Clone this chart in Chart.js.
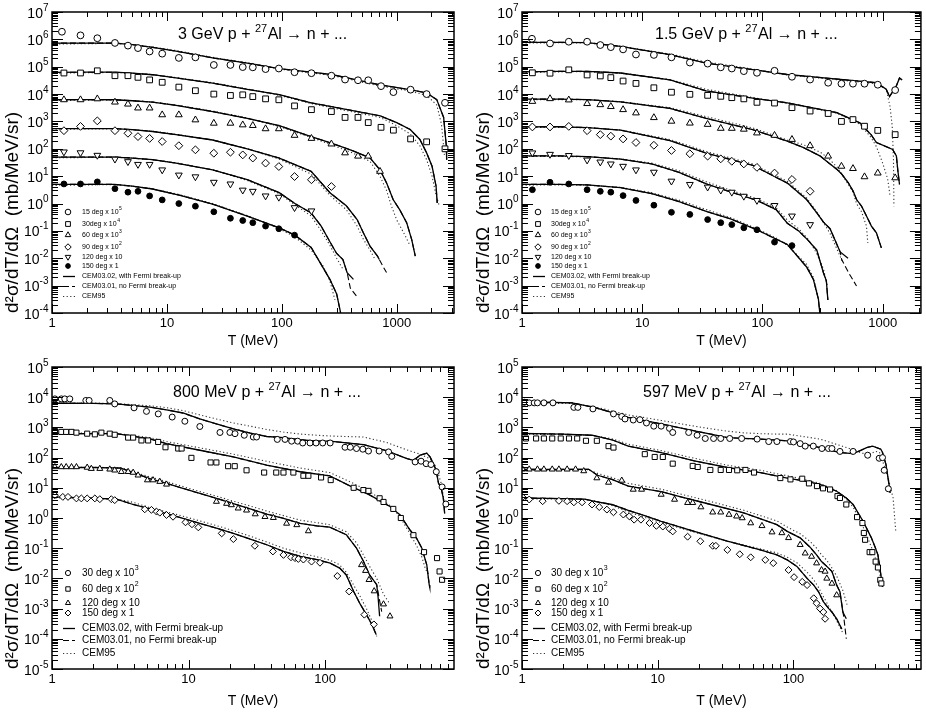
<!DOCTYPE html>
<html>
<head>
<meta charset="utf-8">
<script src="https://cdn.jsdelivr.net/npm/chart.js@4.4.1/dist/chart.umd.min.js"></script>
<style>
  html, body { margin: 0; padding: 0; background: #fff; }
  .panel { position: absolute; }
</style>
</head>
<body>
<div class="panel" style="left:0;top:0"><canvas id="p1" width="463" height="357"></canvas></div>
<div class="panel" style="left:463px;top:0"><canvas id="p2" width="463" height="357"></canvas></div>
<div class="panel" style="left:0;top:357px"><canvas id="p3" width="463" height="356"></canvas></div>
<div class="panel" style="left:463px;top:357px"><canvas id="p4" width="463" height="356"></canvas></div>
<script>
// tick labels / legend texts
const xTickValues = [1, 10, 100, 1000];
const modelLabels = ['CEM03.02, with Fermi break-up', 'CEM03.01, no Fermi break-up', 'CEM95'];
const legendHigh = [['15 deg x 10', '5'], ['30deg x 10', '4'], ['60 deg x 10', '3'], ['90 deg x 10', '2'], ['120 deg x 10', ''], ['150 deg x 1', '']];
const legendLow = [['30 deg x 10', '3'], ['60 deg x 10', '2'], ['120 deg x 10', ''], ['150 deg x 1', '']];

// ---------- 3 GeV p + 27Al (T in MeV, d2s/dTdO scaled) ----------
const gev3_15deg = [[1.22,1.9e6],[1.77,1.4e6],[2.48,1.1e6],[3.53,7.4e5],[4.58,5.9e5],[5.6,4.8e5],[7.07,3.6e5],[9.1,3.0e5],[12.7,2.1e5],[17.7,2.2e5],[25.6,1.16e5],[35.7,1.16e5],[45.7,9.7e4],[55.9,9.5e4],[72.2,8.2e4],[94.2,8.6e4],[129,6.3e4],[181,5.8e4],[270,4.7e4],[355,3.4e4],[460,3.2e4],[565,3.2e4],[730,1.95e4],[935,1.18e4],[1320,1.45e4],[1820,1.0e4],[2630,4.8e3]];
const gev3_30deg = [[1.27,5.9e4],[1.77,5.9e4],[2.48,7.1e4],[3.53,4.7e4],[4.58,4.7e4],[5.6,4.1e4],[7.07,3.3e4],[9.1,2.7e4],[12.7,1.8e4],[17.7,1.33e4],[25.6,1.0e4],[35.7,8.9e3],[45.7,9.4e3],[55.9,8.1e3],[72.2,6.7e3],[94.2,6.2e3],[129,3.7e3],[181,2.7e3],[270,2.3e3],[355,1.4e3],[460,1.4e3],[565,9.1e2],[730,6.1e2],[935,4.8e2],[1320,2.3e2],[1820,1.8e2],[2630,1.0e2]];
const gev3_60deg = [[1.27,6.2e3],[1.77,6.2e3],[2.48,6.7e3],[3.53,5.1e3],[4.58,4.3e3],[5.6,3.1e3],[7.07,3.1e3],[9.1,1.75e3],[12.7,1.75e3],[17.7,1.14e3],[25.6,8.6e2],[35.7,8.6e2],[45.7,7.5e2],[55.9,7.1e2],[72.2,5.4e2],[94.2,5.4e2],[129,3.1e2],[181,2.4e2],[270,1.5e2],[355,71],[460,54],[565,54],[715,15]];
const gev3_90deg = [[1.27,4.6e2],[1.77,6.6e2],[2.48,1.05e3],[3.53,4.6e2],[4.58,3.7e2],[5.6,2.8e2],[7.07,2.4e2],[9.1,1.85e2],[12.7,1.3e2],[17.7,92],[25.6,69],[35.7,75],[45.7,60],[55.9,46],[72.2,30],[94.2,22.5],[129,9.7],[181,7.4],[270,4.2]];
const gev3_120deg = [[1.27,77],[1.77,72],[2.48,58],[3.53,42],[4.58,34],[5.6,27],[7.07,27],[9.1,17],[12.7,11],[17.7,9.5],[25.6,6.0],[35.7,5.2],[45.7,3.1],[55.9,2.8],[72.2,1.9],[94.2,1.7],[129,0.71],[181,0.54]];
const gev3_150deg = [[1.27,5.2],[1.77,5.2],[2.48,6.2],[3.53,3.5],[4.58,2.6],[5.6,2.8],[7.07,1.9],[9.1,1.36],[12.7,1.0],[17.7,0.8],[25.6,0.5],[35.7,0.29],[45.7,0.24],[55.9,0.2],[72.2,0.15],[94.2,0.12],[129,0.07]];

const gev3_cem0302_15 = [[1,7.3e5],[2,7.3e5],[3.5,7.3e5],[5,6.4e5],[7.5,5.1e5],[12,3.7e5],[25,2.1e5],[50,1.35e5],[95,8.5e4],[180,6.3e4],[270,5.2e4],[700,2.2e4],[1300,1.45e4],[1820,1.1e4],[2230,6.3e3],[2560,1.4e3],[2700,1.3e2],[2720,40]];
const gev3_cem0302_30 = [[1,6.2e4],[2,6.3e4],[3.5,6.3e4],[5,5.8e4],[7.5,5.1e4],[12,3.9e4],[25,2.5e4],[50,1.5e4],[95,9.5e3],[180,4.8e3],[270,3.5e3],[720,1.6e3],[1000,9.0e2],[1310,5.1e2],[1590,2.2e2],[1820,71],[2030,23],[2200,4.3],[2250,1.05]];
const gev3_cem0302_60 = [[1,6.2e3],[2,6.3e3],[3.5,6.2e3],[5,5.7e3],[7.5,5.1e3],[12,3.9e3],[25,2.3e3],[50,1.3e3],[95,7.0e2],[180,2.8e2],[270,1.6e2],[400,90],[585,47],[715,17],[815,5.7],[930,1.4],[1060,0.6],[1220,0.2],[1350,0.048],[1450,0.012]];
const gev3_cem0302_90 = [[1,5.5e2],[2,5.5e2],[3.5,5.5e2],[5,5.0e2],[7.5,4.3e2],[12,3.3e2],[25,2.1e2],[50,1.0e2],[95,46],[180,15],[262,2.5],[364,0.83],[452,0.26],[512,0.085],[585,0.028],[680,0.012],[705,0.009]];
const gev3_cem0302_120 = [[1,50],[2,50],[3.5,50],[5,46],[7.5,40],[12,30],[25,17],[50,7.5],[95,2.5],[130,1.0],[180,0.45],[220,0.15],[262,0.04],[300,0.015],[340,0.009],[370,0.003],[420,0.0017]];
const gev3_cem0302_150 = [[1,5],[2,5],[3.5,5],[5,4.3],[7.5,3.4],[13,2.0],[25,0.95],[50,0.35],[95,0.13],[130,0.07],[180,0.025],[262,0.0017],[300,0.0005],[325,0.0001]];

const gev3_cem0301_15 = [[1,7.3e5],[2,7.3e5],[3.5,7.3e5],[5,6.4e5],[7.5,5.1e5],[12,3.7e5],[25,2.1e5],[50,1.35e5],[95,8.5e4],[180,6.3e4],[270,5.2e4],[700,2.2e4],[1300,1.45e4],[1820,1.1e4],[2230,6.3e3],[2560,1.4e3],[2700,1.3e2],[2720,40]];
const gev3_cem0301_30 = [[1,6.2e4],[2,6.3e4],[3.5,6.3e4],[5,5.8e4],[7.5,5.1e4],[12,3.9e4],[25,2.5e4],[50,1.5e4],[95,9.5e3],[180,4.8e3],[270,3.5e3],[720,1.6e3],[1000,9.0e2],[1310,5.1e2],[1590,2.2e2],[1820,71],[2030,23],[2200,4.3],[2250,1.05]];
const gev3_cem0301_60 = [[1,6.2e3],[2,6.3e3],[3.5,6.2e3],[5,5.7e3],[7.5,5.1e3],[12,3.9e3],[25,2.3e3],[50,1.3e3],[95,7.0e2],[180,2.8e2],[270,1.6e2],[400,90],[585,47],[715,17],[815,5.7],[930,1.4],[1060,0.6],[1220,0.2],[1350,0.048],[1450,0.012]];
const gev3_cem0301_90 = [[1,5.5e2],[2,5.5e2],[3.5,5.5e2],[5,5.0e2],[7.5,4.3e2],[12,3.3e2],[25,2.1e2],[50,1.0e2],[95,46],[180,15],[262,2.5],[364,0.83],[452,0.26],[512,0.085],[585,0.028],[680,0.012],[705,0.009],[760,0.005],[815,0.003]];
const gev3_cem0301_120 = [[1,50],[2,50],[3.5,50],[5,46],[7.5,40],[12,30],[25,17],[50,7.5],[95,2.5],[130,1.0],[180,0.45],[220,0.15],[262,0.04],[300,0.015],[340,0.009],[370,0.003],[395,0.0008],[450,0.0004]];
const gev3_cem0301_150 = [[1,5],[2,5],[3.5,5],[5,4.3],[7.5,3.4],[13,2.0],[25,0.95],[50,0.35],[95,0.13],[130,0.07],[180,0.025],[262,0.0017],[300,0.0005],[325,0.0001]];

const gev3_cem95_15 = [[1,6.8e5],[2,6.9e5],[3.5,7.2e5],[5,6.5e5],[7.5,5.3e5],[12,3.9e5],[25,2.2e5],[50,1.4e5],[95,8.2e4],[180,6.0e4],[270,4.8e4],[700,2.0e4],[1300,1.3e4],[1820,9.0e3],[2230,4.0e3],[2450,8.0e2],[2600,60]];
const gev3_cem95_30 = [[1,5.8e4],[2,6.0e4],[3.5,6.2e4],[5,5.8e4],[7.5,5.2e4],[12,4.0e4],[25,2.6e4],[50,1.55e4],[95,9.0e3],[180,4.5e3],[270,3.2e3],[720,1.4e3],[1000,7.0e2],[1310,3.5e2],[1590,1.3e2],[1820,40],[2030,10],[2200,2],[2350,0.8]];
const gev3_cem95_60 = [[1,5.8e3],[2,6.0e3],[3.5,6.1e3],[5,5.8e3],[7.5,5.1e3],[12,4.0e3],[25,2.4e3],[50,1.35e3],[95,6.5e2],[180,2.6e2],[270,1.4e2],[400,75],[585,35],[715,10],[815,3],[900,0.8],[1000,0.25],[1100,0.12],[1200,0.06],[1300,0.03]];
const gev3_cem95_90 = [[1,5.2e2],[2,5.3e2],[3.5,5.4e2],[5,5.0e2],[7.5,4.4e2],[12,3.4e2],[25,2.1e2],[50,1.0e2],[95,42],[180,12],[262,2],[364,0.6],[452,0.15],[512,0.05],[585,0.02],[640,0.01]];
const gev3_cem95_120 = [[1,47],[2,48],[3.5,49],[5,46],[7.5,40],[12,31],[25,17],[50,7],[95,2.3],[130,0.9],[180,0.35],[220,0.1],[262,0.03],[300,0.01],[340,0.004]];
const gev3_cem95_150 = [[1,4.6],[2,4.8],[3.5,4.9],[5,4.3],[7.5,3.5],[13,2.1],[25,1.0],[50,0.36],[95,0.12],[130,0.06],[180,0.02],[230,0.005],[262,0.0015],[290,0.0003]];

// ---------- 1.5 GeV p + 27Al ----------
const gev15_15deg = [[1.21,1.05e6],[1.71,7.1e5],[2.45,8.2e5],[3.48,8.2e5],[4.48,6.2e5],[5.48,5.2e5],[6.93,4.3e5],[8.87,2.8e5],[12.5,2.7e5],[17.5,2.2e5],[24.9,1.42e5],[35,1.3e5],[45,9.5e4],[55.6,8.6e4],[70,6.9e4],[90,6.0e4],[126,7.1e4],[176,4.3e4],[249,3.4e4],[352,2.6e4],[454,2.4e4],[566,2.4e4],[706,2.4e4],[910,2.2e4],[1270,1.4e4]];
const gev15_30deg = [[1.22,6.0e4],[1.71,5.8e4],[2.45,7.7e4],[3.48,5.0e4],[4.48,4.6e4],[5.48,4.0e4],[6.93,3.0e4],[8.87,2.45e4],[12.5,1.7e4],[17.5,1.17e4],[24.9,9.8e3],[35,9.0e3],[45,8.3e3],[55.6,7.4e3],[70,6.7e3],[90,5.0e3],[126,4.7e3],[176,3.2e3],[249,2.4e3],[352,1.95e3],[454,1.0e3],[566,1.17e3],[706,6.7e2],[910,4.7e2],[1270,3.3e2]];
const gev15_60deg = [[1.22,5.4e3],[1.71,6.8e3],[2.45,6.1e3],[3.48,4.5e3],[4.48,4.1e3],[5.48,3.5e3],[6.93,2.7e3],[8.87,2.05e3],[12.5,1.38e3],[17.5,1.02e3],[24.9,8.7e2],[35,7.8e2],[45,5.6e2],[55.6,5.6e2],[70,5.2e2],[90,3.8e2],[126,3.1e2],[176,2.2e2],[249,1.3e2],[352,54],[454,23],[566,19],[706,9.5],[910,13],[1270,8.7]];
const gev15_90deg = [[1.22,6.3e2],[1.71,6.3e2],[2.45,6.6e2],[3.48,4.6e2],[4.48,3.3e2],[5.48,2.9e2],[6.93,2.3e2],[8.87,1.7e2],[12.5,1.35e2],[17.5,87],[24.9,66],[35,54],[45,43],[55.6,35],[70,28],[90,21],[126,13],[176,7.6],[249,2.8]];
const gev15_120deg = [[1.22,71],[1.71,63],[2.45,57],[3.48,39],[4.48,33],[5.48,28],[6.93,23],[8.87,17],[12.5,14],[17.5,6.6],[24.9,5.0],[35,4.0],[45,3.1],[55.6,2.6],[70,1.85],[90,1.3],[126,0.85],[176,0.35],[249,0.17]];
const gev15_150deg = [[1.22,3.2],[1.71,6.0],[2.45,5.2],[3.48,3.2],[4.48,2.8],[5.48,2.6],[6.93,1.95],[8.87,1.3],[12.5,0.87],[17.5,0.48],[24.9,0.4],[35,0.26],[45,0.2],[55.6,0.17],[70,0.13],[90,0.11],[126,0.039],[176,0.029]];

const gev15_cem0302_15 = [[1,7.8e5],[2,7.8e5],[3.5,7.6e5],[6.6,5.5e5],[17,2.75e5],[34,1.36e5],[83,7.8e4],[161,5.2e4],[400,3.6e4],[887,2.6e4],[1070,1.5e4],[1140,8.1e3],[1300,2.0e4],[1380,3.9e4],[1450,3.3e4]];
const gev15_cem0302_30 = [[1,6.5e4],[2,6.8e4],[3.5,6.8e4],[6.6,5.9e4],[17,3.3e4],[34,1.3e4],[83,7.1e3],[161,4.8e3],[415,2.1e3],[646,8.9e2],[800,3.3e2],[887,1.7e2],[1070,1.2e2],[1210,95],[1300,55],[1335,17],[1380,5]];
const gev15_cem0302_60 = [[1,6.5e3],[2,6.6e3],[3.5,6.3e3],[6.6,5.2e3],[17,3.0e3],[34,1.3e3],[83,5.0e2],[161,1.9e2],[220,1.1e2],[303,54],[354,31],[415,18],[456,12],[518,5.7],[569,2.8],[606,1.4],[667,0.8],[733,0.35],[806,0.15],[887,0.085],[975,0.024]];
const gev15_cem0302_90 = [[1,6.3e2],[2,6.4e2],[3.5,6.0e2],[6.6,4.8e2],[17,2.0e2],[34,70],[83,25],[161,5.6],[233,1.4],[283,0.46],[322,0.21],[365,0.12],[443,0.017],[515,0.01]];
const gev15_cem0302_120 = [[1,55],[2,55],[3.5,52],[6.6,42],[12,28],[20,14],[35,5],[55,2.6],[90,1.3],[130,0.6],[161,0.19],[200,0.1],[240,0.045],[283,0.02],[322,0.0029],[340,0.0015],[350,0.0003]];
const gev15_cem0302_150 = [[1,5],[2,5],[3.5,4.8],[6.6,3.8],[12,2.3],[20,1.2],[35,0.5],[55,0.27],[90,0.11],[130,0.05],[161,0.032],[233,0.0048],[265,0.0017],[292,0.00032],[300,0.0001]];

const gev15_cem0301_15 = [[1,7.8e5],[2,7.8e5],[3.5,7.6e5],[6.6,5.5e5],[17,2.75e5],[34,1.36e5],[83,7.8e4],[161,5.2e4],[400,3.6e4],[887,2.6e4],[1070,1.5e4],[1140,8.1e3],[1300,2.0e4],[1380,3.9e4],[1450,3.3e4]];
const gev15_cem0301_30 = [[1,6.5e4],[2,6.8e4],[3.5,6.8e4],[6.6,5.9e4],[17,3.3e4],[34,1.3e4],[83,7.1e3],[161,4.8e3],[415,2.1e3],[646,8.9e2],[800,3.3e2],[887,1.7e2],[1070,1.2e2],[1210,95],[1300,55],[1335,17],[1380,5]];
const gev15_cem0301_60 = [[1,6.5e3],[2,6.6e3],[3.5,6.3e3],[6.6,5.2e3],[17,3.0e3],[34,1.3e3],[83,5.0e2],[161,1.9e2],[220,1.1e2],[303,54],[354,31],[415,18],[456,12],[518,5.7],[569,2.8],[606,1.4],[667,0.8],[733,0.35],[806,0.15],[887,0.085],[975,0.024]];
const gev15_cem0301_90 = [[1,6.3e2],[2,6.4e2],[3.5,6.0e2],[6.6,4.8e2],[17,2.0e2],[34,70],[83,25],[161,5.6],[233,1.4],[283,0.46],[322,0.21],[365,0.12],[443,0.017],[456,0.009],[520,0.003],[606,0.00097]];
const gev15_cem0301_120 = [[1,55],[2,55],[3.5,52],[6.6,42],[12,28],[20,14],[35,5],[55,2.6],[90,1.3],[130,0.6],[161,0.19],[200,0.1],[240,0.045],[283,0.02],[322,0.0029],[340,0.0015],[350,0.0003]];
const gev15_cem0301_150 = [[1,5],[2,5],[3.5,4.8],[6.6,3.8],[12,2.3],[20,1.2],[35,0.5],[55,0.27],[90,0.11],[130,0.05],[161,0.032],[233,0.0048],[265,0.0017],[292,0.00032],[300,0.0001]];

const gev15_cem95_15 = [[1,7.4e5],[2,7.5e5],[3.5,7.4e5],[6.6,5.6e5],[17,2.9e5],[34,1.5e5],[83,8.2e4],[161,5.0e4],[400,3.4e4],[887,2.4e4],[1070,1.5e4],[1150,3.6e3],[1200,6.8e2],[1230,40],[1240,0.8]];
const gev15_cem95_30 = [[1,6.2e4],[2,6.5e4],[3.5,6.6e4],[6.6,5.8e4],[17,3.4e4],[34,1.5e4],[83,7.5e3],[161,4.6e3],[415,2.0e3],[646,8.0e2],[800,2.6e2],[887,1.2e2],[1000,30],[1100,8],[1150,2]];
const gev15_cem95_60 = [[1,6.2e3],[2,6.3e3],[3.5,6.2e3],[6.6,5.3e3],[17,3.2e3],[34,1.5e3],[83,5.8e2],[161,2.1e2],[220,1.4e2],[303,75],[354,45],[415,22],[456,12],[518,5],[569,2.5],[606,1.0],[667,0.5],[733,0.15],[752,0.036]];
const gev15_cem95_90 = [[1,6.0e2],[2,6.1e2],[3.5,5.9e2],[6.6,4.9e2],[17,2.2e2],[34,80],[83,28],[161,6.5],[233,1.6],[283,0.5],[322,0.2],[365,0.08],[420,0.02],[460,0.008]];
const gev15_cem95_120 = [[1,52],[2,53],[3.5,51],[6.6,43],[12,30],[20,16],[35,6],[55,3],[90,1.5],[130,0.7],[161,0.25],[200,0.12],[240,0.05],[283,0.015],[322,0.004],[345,0.001]];
const gev15_cem95_150 = [[1,4.7],[2,4.8],[3.5,4.7],[6.6,3.9],[12,2.5],[20,1.35],[35,0.58],[55,0.3],[90,0.12],[130,0.055],[161,0.03],[233,0.006],[265,0.002],[290,0.0004]];

// ---------- 800 MeV p + 27Al ----------
const mev800_30deg = [[1.05,8.8e3],[1.17,8.8e3],[1.24,8.8e3],[1.35,8.8e3],[1.77,7.8e3],[1.87,7.8e3],[2.65,7.8e3],[2.88,6.0e3],[3.99,4.45e3],[4.92,3.4e3],[6.0,2.8e3],[7.59,2.2e3],[9.4,1.6e3],[12.1,1.07e3],[17,6.8e2],[20.1,6.8e2],[21.9,6.2e2],[25.6,5.5e2],[29.8,4.8e2],[31.5,4.8e2],[44.7,4.0e2],[50.9,4.0e2],[56.9,3.5e2],[63,3.5e2],[68.6,3.05e2],[77.6,3.05e2],[85.9,3.05e2],[96.1,3.05e2],[109,3.05e2],[140,2.2e2],[153,2.2e2],[170,2.0e2],[189,1.9e2],[208,1.65e2],[249,1.65e2],[292,1.54e2],[308,1.1e2],[457,72],[505,76],[550,63],[597,59],[653,34],[720,10.7],[767,2.9]];
const mev800_60deg = [[1.05,7.6e2],[1.17,7.1e2],[1.27,7.1e2],[1.39,7.1e2],[1.51,6.7e2],[1.81,6.2e2],[2.06,5.9e2],[2.3,6.7e2],[2.65,6.2e2],[2.88,5.7e2],[3.61,4.6e2],[3.93,4.6e2],[4.52,3.7e2],[5.06,3.7e2],[5.99,3.3e2],[6.78,2.2e2],[8.4,2.0e2],[8.9,2.0e2],[10.5,98],[14.5,69],[16,69],[19.5,52],[21.8,52],[26.6,38],[35.8,32],[43.9,32],[49.6,32],[58.6,32],[69.4,25],[75.5,25],[93.5,22],[110,18],[162,10],[191,8.4],[208,7.9],[251,4.5],[268,3.4],[316,2.0],[359,1.0],[444,0.27],[531,0.074],[661,0.047],[690,0.017],[720,0.009]];
const mev800_120deg = [[1.05,49],[1.17,49],[1.27,49],[1.39,49],[1.51,49],[1.81,47],[1.94,43],[2.24,43],[2.65,41],[2.88,38],[3.22,34],[3.61,34],[3.93,32],[4.27,26],[5.0,18],[5.5,18],[6.16,16],[6.9,13],[16,3.5],[19,3.0],[20.6,2.7],[23.1,2.1],[26.6,1.8],[30.8,1.35],[36.3,1.1],[41.8,1.02],[52.3,0.66],[62.1,0.59],[75.5,0.37],[185,0.028],[198,0.018],[210,0.009],[229,0.0038],[268,0.0014],[299,0.00056]];
const mev800_150deg = [[1.05,5.7],[1.2,5.0],[1.31,5.0],[1.51,4.45],[1.64,4.45],[1.81,4.45],[2.06,4.45],[2.24,4.2],[2.72,4.2],[2.88,3.9],[4.78,1.94],[5.35,1.86],[5.83,1.63],[6.16,1.5],[6.9,1.26],[7.7,1.1],[9.5,0.72],[10.6,0.62],[11.8,0.49],[17.5,0.31],[21.3,0.2],[30.6,0.12],[41.5,0.078],[49.6,0.06],[56.3,0.05],[60.3,0.047],[63.7,0.044],[69.4,0.042],[79.6,0.036],[91.8,0.033],[123,0.012],[150,0.0037],[194,0.00063],[228,0.0003]];

const mev800_cem0302_30 = [[1,6.3e3],[2,6.2e3],[2.96,6.0e3],[5.2,4.7e3],[6.9,3.8e3],[9.1,3.0e3],[12.1,1.9e3],[16,1.3e3],[21.3,9.0e2],[28.3,6.5e2],[37.4,5.0e2],[49.6,4.6e2],[65.8,3.9e2],[87,3.5e2],[108,3.5e2],[191,2.7e2],[281,1.7e2],[398,93],[445,81],[497,1.2e2],[556,1.4e2],[588,1.05e2],[622,63],[651,38],[678,14],[706,10.7],[735,4.5],[752,1.4]];
const mev800_cem0302_60 = [[1,6.2e2],[2,6.2e2],[2.96,6.2e2],[5.2,4.2e2],[6.9,2.9e2],[12.1,1.75e2],[21.3,1.05e2],[37.4,56],[65.8,34],[108,25],[152,11.6],[212,5.8],[299,2.4],[354,1.27],[419,0.4],[469,0.21],[512,0.1],[556,0.028],[580,0.006],[585,0.005]];
const mev800_cem0302_120 = [[1,47],[2,47],[3.2,45],[4.27,28],[5.2,20],[6.9,14],[9.1,9.6],[12.1,6.5],[16,4.5],[21.3,3.0],[28.3,2.0],[37.4,1.35],[49.6,0.98],[65.8,0.66],[87,0.55],[108,0.5],[143,0.28],[170,0.1],[191,0.037],[212,0.013],[239,0.0062],[245,0.0022],[251,0.00056]];
const mev800_cem0302_150 = [[1,5],[2,4.5],[2.96,4.2],[3.93,2.8],[5.2,2.0],[6.9,1.4],[9.1,0.98],[12.1,0.66],[16,0.46],[21.3,0.31],[28.3,0.2],[37.4,0.13],[49.6,0.078],[65.8,0.054],[87,0.042],[109,0.032],[128,0.022],[143,0.013],[162,0.0037],[181,0.0014],[201,0.00063],[220,0.0003],[235,0.00015]];

const mev800_cem0301_30 = [[1,6.3e3],[2,6.2e3],[2.96,6.0e3],[5.2,4.7e3],[6.9,3.8e3],[9.1,3.0e3],[12.1,1.9e3],[16,1.3e3],[21.3,9.0e2],[28.3,6.5e2],[37.4,5.0e2],[49.6,4.6e2],[65.8,3.9e2],[87,3.5e2],[108,3.5e2],[191,2.7e2],[281,1.7e2],[398,93],[445,81],[497,1.2e2],[556,1.4e2],[588,1.05e2],[622,63],[651,38],[678,14],[706,10.7],[735,4.5],[752,1.4]];
const mev800_cem0301_60 = [[1,6.2e2],[2,6.2e2],[2.96,6.2e2],[5.2,4.2e2],[6.9,2.9e2],[12.1,1.75e2],[21.3,1.05e2],[37.4,56],[65.8,34],[108,25],[152,11.6],[212,5.8],[299,2.4],[354,1.27],[419,0.4],[469,0.21],[512,0.1],[556,0.028],[580,0.006],[585,0.005]];
const mev800_cem0301_120 = [[1,47],[2,47],[3.2,45],[4.27,28],[5.2,20],[6.9,14],[9.1,9.6],[12.1,6.5],[16,4.5],[21.3,3.0],[28.3,2.0],[37.4,1.35],[49.6,0.98],[65.8,0.66],[87,0.55],[108,0.5],[143,0.28],[170,0.1],[191,0.037],[212,0.013],[239,0.0062],[250,0.002],[260,0.0008]];
const mev800_cem0301_150 = [[1,5],[2,4.5],[2.96,4.2],[3.93,2.8],[5.2,2.0],[6.9,1.4],[9.1,0.98],[12.1,0.66],[16,0.46],[21.3,0.31],[28.3,0.2],[37.4,0.13],[49.6,0.078],[65.8,0.054],[87,0.042],[109,0.032],[128,0.022],[143,0.013],[162,0.0037],[181,0.0014],[201,0.00063],[220,0.0003],[240,0.00012]];

const mev800_cem95_30 = [[1,6.5e3],[2,6.4e3],[2.96,6.2e3],[5.2,5.2e3],[6.9,4.5e3],[9.1,3.6e3],[12.1,2.6e3],[16,1.9e3],[21.3,1.4e3],[28.3,1.1e3],[37.4,8.5e2],[49.6,7.0e2],[65.8,6.0e2],[87,5.5e2],[108,5.2e2],[191,4.8e2],[281,3.2e2],[398,1.8e2],[497,1.3e2],[588,90],[651,50],[706,15],[752,3]];
const mev800_cem95_60 = [[1,6.5e2],[2,6.5e2],[2.96,6.3e2],[5.2,4.6e2],[6.9,3.4e2],[12.1,2.1e2],[21.3,1.3e2],[37.4,75],[65.8,45],[108,32],[152,16],[212,7.5],[299,2.6],[354,1.1],[419,0.3],[469,0.12],[512,0.05],[545,0.02],[570,0.014]];
const mev800_cem95_120 = [[1,48],[2,48],[3.2,46],[4.27,30],[5.2,23],[6.9,16],[9.1,11],[12.1,7.5],[16,5.3],[21.3,3.6],[28.3,2.5],[37.4,1.7],[49.6,1.2],[65.8,0.85],[87,0.7],[108,0.6],[143,0.35],[170,0.15],[191,0.06],[212,0.025],[239,0.01],[268,0.003],[299,0.0014]];
const mev800_cem95_150 = [[1,4.6],[2,4.5],[2.96,4.3],[3.93,3.3],[5.2,2.2],[6.9,1.6],[9.1,1.15],[12.1,0.8],[16,0.56],[21.3,0.38],[28.3,0.25],[37.4,0.16],[49.6,0.1],[65.8,0.07],[87,0.052],[109,0.04],[128,0.028],[143,0.016],[162,0.006],[181,0.0025],[201,0.001],[220,0.0004],[239,0.00012]];

// ---------- 597 MeV p + 27Al ----------
const mev597_30deg = [[1.04,6.8e3],[1.13,6.5e3],[1.23,6.5e3],[1.3,6.5e3],[1.45,6.5e3],[1.69,6.5e3],[2.41,4.6e3],[2.58,4.6e3],[3.33,4.1e3],[4.72,2.8e3],[5.43,2.3e3],[5.74,1.9e3],[6.6,1.76e3],[7.39,1.8e3],[8.26,1.4e3],[9.35,1.1e3],[10.6,1.1e3],[12.2,9.3e2],[12.9,6.8e2],[16.9,6.8e2],[19.5,5.5e2],[22.4,4.3e2],[25.8,4.3e2],[29.1,4.3e2],[33.9,4.3e2],[41.5,4.3e2],[54,4.1e2],[65.7,3.4e2],[75.5,3.4e2],[95,3.4e2],[100,3.3e2],[112,2.9e2],[122,2.4e2],[140,2.4e2],[162,2.0e2],[181,2.0e2],[192,2.0e2],[220,1.6e2],[275,1.6e2],[352,1.2e2],[428,95],[453,1.0e2],[466,38],[500,9.3]];
const mev597_60deg = [[1.07,4.3e2],[1.27,4.3e2],[1.45,4.3e2],[1.67,4.3e2],[1.93,4.3e2],[2.22,4.3e2],[2.55,4.3e2],[2.96,3.6e2],[3.56,3.6e2],[4.34,2.4e2],[4.72,2.15e2],[8.03,1.3e2],[9.5,1.05e2],[10.9,1.05e2],[12.9,63],[18.1,53],[19.7,49],[24.4,39],[29.1,39],[33.5,39],[38.5,38],[44.3,39],[51.2,32],[80,21],[95,19],[116,20],[130,14],[149,11.4],[165,9.6],[186,8.8],[211,5.3],[220,4.6],[245,2.8],[294,1.07],[322,0.68],[330,0.32],[337,0.19],[364,0.074],[381,0.074],[403,0.036],[419,0.023],[436,0.0089],[444,0.0068]];
const mev597_120deg = [[1.01,41],[1.13,41],[1.3,41],[1.45,41],[1.67,41],[1.87,41],[2.15,41],[2.48,41],[2.85,36],[3.56,21],[4.34,15],[5.43,17.5],[6.6,8.8],[7.6,8.8],[10.6,6.0],[13.3,4.1],[16.6,3.2],[18.1,3.2],[20.8,2.3],[25.4,1.55],[29.1,1.55],[33.5,1.3],[38.1,1.14],[41.9,1.0],[48.4,0.68],[58.6,0.55],[69.5,0.34],[82.1,0.32],[92,0.22],[112,0.13],[122,0.068],[136,0.053],[148,0.032],[161,0.019],[171,0.017],[176,0.01],[192,0.0068],[208,0.0028]];
const mev597_150deg = [[1.01,4.9],[1.13,4.1],[1.42,3.6],[1.87,3.7],[2.15,3.6],[2.41,3.3],[2.77,3.3],[3.28,2.8],[3.71,2.3],[4.22,1.9],[4.72,1.55],[5.58,1.3],[6.17,1.14],[6.7,0.88],[7.52,0.88],[8.7,0.68],[9.77,0.55],[10.9,0.52],[12.2,0.44],[12.9,0.36],[16.6,0.24],[20.6,0.17],[25.4,0.12],[26.8,0.12],[32.6,0.088],[40.2,0.063],[48.4,0.05],[62,0.041],[71,0.032],[92,0.019],[101,0.011],[116,0.0077],[126,0.006],[141,0.0022],[148,0.0015],[157,0.001],[166,0.00077],[171,0.00046]];

const mev597_cem0302_30 = [[1,6.8e3],[1.5,6.8e3],[2.34,6.5e3],[3.4,4.6e3],[4.5,3.2e3],[6.06,2.15e3],[10.6,1.3e3],[18.6,7.7e2],[24.6,6.0e2],[32.6,4.6e2],[43.1,4.3e2],[57,4.1e2],[75.5,3.8e2],[90,3.6e2],[157,2.15e2],[220,1.47e2],[275,1.36e2],[307,1.67e2],[346,2.15e2],[383,2.4e2],[440,1.9e2],[453,1.47e2],[480,60],[495,24.5],[510,10],[515,6.8]];
const mev597_cem0302_60 = [[1,6.3e2],[2,6.0e2],[3.28,5.5e2],[4.59,3.9e2],[6.06,2.4e2],[10.6,1.47e2],[18.6,78],[32.6,47],[57,32],[90,21],[119,17],[157,13],[208,7.7],[245,4.6],[275,2.8],[299,1.47],[326,0.78],[355,0.36],[375,0.22],[399,0.11],[419,0.06],[430,0.028],[444,0.01],[452,0.0052]];
const mev597_cem0302_120 = [[1,41],[2,41],[3.1,41],[3.6,26],[4.6,19],[6.06,11.4],[10.6,7.5],[14.1,5.3],[24.6,2.8],[43.1,1.47],[75.5,0.6],[90,0.36],[112,0.22],[132,0.11],[148,0.06],[161,0.036],[176,0.025],[192,0.017],[208,0.006],[220,0.0036],[231,0.00077],[245,0.00046]];
const mev597_cem0302_150 = [[1,4.6],[2,4.4],[2.9,4.2],[3.5,3.5],[4.59,2.8],[6.06,1.8],[8,1.2],[10.6,0.78],[18.6,0.36],[32.6,0.17],[57,0.088],[75.5,0.06],[90,0.041],[106,0.025],[126,0.01],[141,0.006],[153,0.0036],[166,0.0017],[182,0.001],[192,0.00077],[208,0.00046],[227,0.00021]];

const mev597_cem0301_30 = [[1,6.8e3],[1.5,6.8e3],[2.34,6.5e3],[3.4,4.6e3],[4.5,3.2e3],[6.06,2.15e3],[10.6,1.3e3],[18.6,7.7e2],[24.6,6.0e2],[32.6,4.6e2],[43.1,4.3e2],[57,4.1e2],[75.5,3.8e2],[90,3.6e2],[157,2.15e2],[220,1.47e2],[275,1.36e2],[307,1.67e2],[346,2.15e2],[383,2.4e2],[440,1.9e2],[453,1.47e2],[480,60],[495,24.5],[510,10],[515,6.8]];
const mev597_cem0301_60 = [[1,6.3e2],[2,6.0e2],[3.28,5.5e2],[4.59,3.9e2],[6.06,2.4e2],[10.6,1.47e2],[18.6,78],[32.6,47],[57,32],[90,21],[119,17],[157,13],[208,7.7],[245,4.6],[275,2.8],[299,1.47],[326,0.78],[355,0.36],[375,0.22],[399,0.11],[419,0.06],[430,0.028],[444,0.01],[452,0.0052]];
const mev597_cem0301_120 = [[1,41],[2,41],[3.1,41],[3.6,26],[4.6,19],[6.06,11.4],[10.6,7.5],[14.1,5.3],[24.6,2.8],[43.1,1.47],[75.5,0.6],[90,0.36],[112,0.22],[132,0.11],[148,0.06],[161,0.036],[176,0.025],[192,0.017],[208,0.006],[220,0.0036],[235,0.0005],[245,0.0001]];
const mev597_cem0301_150 = [[1,4.6],[2,4.4],[2.9,4.2],[3.5,3.5],[4.59,2.8],[6.06,1.8],[8,1.2],[10.6,0.78],[18.6,0.36],[32.6,0.17],[57,0.088],[75.5,0.06],[90,0.041],[106,0.025],[126,0.01],[141,0.006],[153,0.0036],[166,0.0017],[182,0.001],[192,0.00077],[208,0.00046],[227,0.00021]];

const mev597_cem95_30 = [[1,6.2e3],[1.5,6.3e3],[2.34,6.2e3],[3.4,4.8e3],[4.5,3.6e3],[6.06,2.6e3],[10.6,1.7e3],[18.6,1.1e3],[24.6,9.0e2],[32.6,7.5e2],[43.1,6.6e2],[57,6.2e2],[75.5,6.0e2],[90,6.0e2],[157,4.1e2],[246,2.15e2],[320,1.4e2],[366,1.3e2],[400,1.6e2],[430,1.5e2],[453,78],[500,20],[542,4.6],[567,0.36]];
const mev597_cem95_60 = [[1,5.8e2],[2,5.8e2],[3.28,5.5e2],[4.59,4.2e2],[6.06,2.8e2],[10.6,1.7e2],[18.6,95],[32.6,56],[57,38],[90,25],[119,19],[157,14],[208,8],[245,4.2],[275,2.3],[299,1.1],[326,0.5],[355,0.2],[375,0.11],[399,0.05],[419,0.025],[436,0.012]];
const mev597_cem95_120 = [[1,38],[2,40],[3.1,40],[3.6,30],[4.6,22],[6.06,14],[10.6,9],[14.1,6.5],[24.6,3.5],[43.1,1.8],[75.5,0.8],[90,0.5],[112,0.3],[132,0.17],[148,0.1],[161,0.06],[176,0.04],[192,0.022],[208,0.012],[231,0.004],[250,0.0012]];
const mev597_cem95_150 = [[1,4.3],[2,4.3],[2.9,4.1],[3.5,3.6],[4.59,2.6],[6.06,1.6],[8,1.05],[10.6,0.7],[18.6,0.34],[32.6,0.17],[57,0.095],[75.5,0.07],[90,0.05],[106,0.033],[126,0.016],[141,0.009],[153,0.005],[166,0.0025],[182,0.0012],[208,0.0004],[232,0.00015]];

// ---------- styles ----------
const FONT = '"Liberation Sans", Arial, Helvetica, sans-serif';
Chart.defaults.font.family = FONT;
Chart.defaults.color = '#000';

const markersHigh = [
  { pointStyle: 'circle', rotation: 0, fill: '#fff', scale: 1 },
  { pointStyle: 'rect', rotation: 0, fill: '#fff', scale: 1.2 },
  { pointStyle: 'triangle', rotation: 0, fill: '#fff', scale: 1.15 },
  { pointStyle: 'rectRot', rotation: 0, fill: '#fff', scale: 1.15 },
  { pointStyle: 'triangle', rotation: 180, fill: '#fff', scale: 1.15 },
  { pointStyle: 'circle', rotation: 0, fill: '#000', scale: 0.85 }
];
const markersLow = markersHigh.slice(0, 4);
const modelStyles = [
  { dash: [], width: 1.3, color: '#000' },
  { dash: [6, 3], width: 1.1, color: '#000' },
  { dash: [1.2, 2.4], width: 1.1, color: '#333' }
];
const yTitle = 'd\u00B2\u03C3/dT/d\u03A9  (mb/MeV/sr)';
const legRowsHigh = [200, 212, 223, 235, 245, 254, 264, 274, 284];
const legRowsLow = [206, 222, 236, 246, 261, 273, 286];

const panels = [
  { canvas: 'p1', xMax: 3150, yMin: 1e-4, yMax: 1e7, title: ['3 GeV p + ', '27', 'Al \u2192 n + ...'],
    exp: [gev3_15deg, gev3_30deg, gev3_60deg, gev3_90deg, gev3_120deg, gev3_150deg],
    models: [[gev3_cem0302_15, gev3_cem0302_30, gev3_cem0302_60, gev3_cem0302_90, gev3_cem0302_120, gev3_cem0302_150],
             [gev3_cem0301_15, gev3_cem0301_30, gev3_cem0301_60, gev3_cem0301_90, gev3_cem0301_120, gev3_cem0301_150],
             [gev3_cem95_15, gev3_cem95_30, gev3_cem95_60, gev3_cem95_90, gev3_cem95_120, gev3_cem95_150]],
    legend: legendHigh, markers: markersHigh },
  { canvas: 'p2', xMax: 2080, yMin: 1e-4, yMax: 1e7, title: ['1.5 GeV p + ', '27', 'Al \u2192 n + ...'],
    exp: [gev15_15deg, gev15_30deg, gev15_60deg, gev15_90deg, gev15_120deg, gev15_150deg],
    models: [[gev15_cem0302_15, gev15_cem0302_30, gev15_cem0302_60, gev15_cem0302_90, gev15_cem0302_120, gev15_cem0302_150],
             [gev15_cem0301_15, gev15_cem0301_30, gev15_cem0301_60, gev15_cem0301_90, gev15_cem0301_120, gev15_cem0301_150],
             [gev15_cem95_15, gev15_cem95_30, gev15_cem95_60, gev15_cem95_90, gev15_cem95_120, gev15_cem95_150]],
    legend: legendHigh, markers: markersHigh },
  { canvas: 'p3', xMax: 880, yMin: 1e-5, yMax: 1e5, title: ['800 MeV p + ', '27', 'Al \u2192 n + ...'],
    exp: [mev800_30deg, mev800_60deg, mev800_120deg, mev800_150deg],
    models: [[mev800_cem0302_30, mev800_cem0302_60, mev800_cem0302_120, mev800_cem0302_150],
             [mev800_cem0301_30, mev800_cem0301_60, mev800_cem0301_120, mev800_cem0301_150],
             [mev800_cem95_30, mev800_cem95_60, mev800_cem95_120, mev800_cem95_150]],
    legend: legendLow, markers: markersLow },
  { canvas: 'p4', xMax: 870, yMin: 1e-5, yMax: 1e5, title: ['597 MeV p + ', '27', 'Al \u2192 n + ...'],
    exp: [mev597_30deg, mev597_60deg, mev597_120deg, mev597_150deg],
    models: [[mev597_cem0302_30, mev597_cem0302_60, mev597_cem0302_120, mev597_cem0302_150],
             [mev597_cem0301_30, mev597_cem0301_60, mev597_cem0301_120, mev597_cem0301_150],
             [mev597_cem95_30, mev597_cem95_60, mev597_cem95_120, mev597_cem95_150]],
    legend: legendLow, markers: markersLow }
];

const layouts = [
  { yAxisW: 52, xAxisH: 44, padTop: 12, padRight: 9, yTitlePad: 1.5, xTitlePad: 7, titleDx: 126, titleDy: 27, legX: 16, legTextX: 30, legRows: legRowsHigh, legFont: 7, legR: 2.8, markR: 3.4 },
  { yAxisW: 59, xAxisH: 44, padTop: 12, padRight: 1, yTitlePad: 9.5, xTitlePad: 7, titleDx: 133, titleDy: 27, legX: 16, legTextX: 29, legRows: legRowsHigh, legFont: 7, legR: 2.8, markR: 3.4 },
  { yAxisW: 52, xAxisH: 44, padTop: 10, padRight: 9, yTitlePad: 1.5, xTitlePad: 3, titleDx: 121, titleDy: 30, legX: 16, legTextX: 30, legRows: legRowsLow, legFont: 10, legR: 2.6, markR: 3.0 },
  { yAxisW: 59, xAxisH: 44, padTop: 10, padRight: 1, yTitlePad: 9.5, xTitlePad: 3, titleDx: 121, titleDy: 30, legX: 16, legTextX: 29, legRows: legRowsLow, legFont: 10, legR: 2.6, markR: 3.0 }
];

const drawMark = (Chart.helpers && Chart.helpers.drawPoint) ? Chart.helpers.drawPoint : function (ctx, o, x, y) {
  ctx.beginPath(); ctx.arc(x, y, o.radius, 0, Math.PI * 2); ctx.fill(); ctx.stroke();
};

function logSteps(min, max) {
  const out = [];
  for (let e = Math.floor(Math.log10(min)) - 1; e <= Math.ceil(Math.log10(max)); e++) {
    for (let m = 1; m < 10; m++) {
      const v = m * Math.pow(10, e);
      if (v >= min * 0.999 && v <= max * 1.001) out.push([v, m === 1]);
    }
  }
  return out;
}

function makeDeco(p, L) {
  return {
    id: 'deco',
    afterDatasetsDraw(chart) {
      const { ctx, chartArea: a } = chart;
      const xs = chart.scales.x, ys = chart.scales.y;
      ctx.save();
      ctx.strokeStyle = '#000';
      ctx.fillStyle = '#000';
      ctx.lineWidth = 1;
      ctx.beginPath();
      logSteps(xs.min, xs.max).forEach(([v, major]) => {
        const px = Math.round(xs.getPixelForValue(v)) + 0.5;
        const len = major ? 9 : 5;
        ctx.moveTo(px, a.bottom); ctx.lineTo(px, a.bottom - len);
        ctx.moveTo(px, a.top); ctx.lineTo(px, a.top + len);
      });
      logSteps(ys.min, ys.max).forEach(([v, major]) => {
        const py = Math.round(ys.getPixelForValue(v)) + 0.5;
        const len = major ? 11 : 6;
        ctx.moveTo(a.left, py); ctx.lineTo(a.left + len, py);
        ctx.moveTo(a.right, py); ctx.lineTo(a.right - len, py);
      });
      ctx.stroke();
      ctx.lineWidth = 1.5;
      ctx.strokeRect(a.left, a.top, a.right - a.left, a.bottom - a.top);

      // y tick labels 10^n
      const e0 = Math.round(Math.log10(ys.min)), e1 = Math.round(Math.log10(ys.max));
      ctx.textBaseline = 'alphabetic';
      for (let e = e0; e <= e1; e++) {
        const py = ys.getPixelForValue(Math.pow(10, e));
        const xr = a.left - 3.5;
        ctx.font = '10px ' + FONT;
        const sup = String(e);
        const sw = ctx.measureText(sup).width;
        ctx.textAlign = 'left';
        ctx.fillText(sup, xr - sw, py - 1.5);
        ctx.font = '14px ' + FONT;
        ctx.textAlign = 'right';
        ctx.fillText('10', xr - sw, py + 5.5);
      }

      // panel title
      const tx = a.left + L.titleDx, ty = a.top + L.titleDy;
      ctx.textAlign = 'left';
      ctx.font = '16px ' + FONT;
      ctx.fillText(p.title[0], tx, ty);
      let w = ctx.measureText(p.title[0]).width;
      ctx.font = '11px ' + FONT;
      ctx.fillText(p.title[1], tx + w, ty - 7);
      w += ctx.measureText(p.title[1]).width + 0.5;
      ctx.font = '16px ' + FONT;
      ctx.fillText(p.title[2], tx + w, ty);

      // legend
      const lx = a.left + L.legX, lt = a.left + L.legTextX;
      ctx.textBaseline = 'middle';
      p.legend.forEach(([base, sup], i) => {
        const yy = a.top + L.legRows[i];
        const m = p.markers[i];
        ctx.lineWidth = 1;
        ctx.strokeStyle = '#000';
        ctx.fillStyle = m.fill;
        drawMark(ctx, { pointStyle: m.pointStyle, rotation: m.rotation, radius: L.legR * m.scale, borderWidth: 1 }, lx, yy);
        ctx.fillStyle = '#000';
        ctx.font = L.legFont + 'px ' + FONT;
        ctx.fillText(base, lt, yy);
        if (sup) {
          const bw = ctx.measureText(base).width;
          ctx.font = Math.round(L.legFont * 0.7) + 'px ' + FONT;
          ctx.fillText(sup, lt + bw + 0.5, yy - L.legFont * 0.45);
        }
      });
      modelLabels.forEach((label, k) => {
        const yy = a.top + L.legRows[p.legend.length + k];
        const st = modelStyles[k];
        ctx.setLineDash(st.dash);
        ctx.lineWidth = st.width;
        ctx.strokeStyle = st.color;
        ctx.beginPath();
        ctx.moveTo(lx - 5, Math.round(yy) + 0.5);
        ctx.lineTo(lx + 7, Math.round(yy) + 0.5);
        ctx.stroke();
        ctx.setLineDash([]);
        ctx.fillStyle = '#000';
        ctx.font = L.legFont + 'px ' + FONT;
        ctx.fillText(label, lt, yy);
      });
      ctx.restore();
    }
  };
}

function buildPanel(p, L) {
  const datasets = [];
  p.exp.forEach((pts, i) => {
    const m = p.markers[i];
    datasets.push({
      data: pts.map(([x, y]) => ({ x, y })),
      showLine: false,
      pointStyle: m.pointStyle,
      pointRotation: m.rotation,
      pointRadius: L.markR * m.scale,
      pointBorderWidth: 1,
      pointBorderColor: '#000',
      pointBackgroundColor: m.fill
    });
  });
  p.models.forEach((curves, k) => {
    const st = modelStyles[k];
    curves.forEach(pts => {
      datasets.push({
        data: pts.map(([x, y]) => ({ x, y })),
        showLine: true,
        pointRadius: 0,
        borderColor: st.color,
        borderWidth: st.width,
        borderDash: st.dash,
        fill: false,
        tension: 0
      });
    });
  });

  new Chart(document.getElementById(p.canvas), {
    type: 'scatter',
    data: { datasets },
    options: {
      responsive: false,
      animation: false,
      events: [],
      devicePixelRatio: 1,
      layout: { padding: { top: L.padTop, right: L.padRight, left: 0, bottom: 0 } },
      plugins: { legend: { display: false }, tooltip: { enabled: false } },
      scales: {
        x: {
          type: 'logarithmic', position: 'bottom', min: 1, max: p.xMax,
          grid: { display: false, drawTicks: false },
          border: { display: false },
          ticks: { font: { size: 13 }, padding: 3, autoSkip: false, maxRotation: 0, callback: v => String(v) },
          afterBuildTicks: s => { s.ticks = xTickValues.filter(v => v >= s.min && v <= s.max).map(v => ({ value: v })); },
          afterFit: s => { s.height = L.xAxisH; },
          title: { display: true, text: 'T (MeV)', font: { size: 14 }, padding: { top: 0, bottom: L.xTitlePad } }
        },
        y: {
          type: 'logarithmic', position: 'left', min: p.yMin, max: p.yMax,
          grid: { display: false, drawTicks: false },
          border: { display: false },
          ticks: { display: false },
          afterFit: s => { s.width = L.yAxisW; },
          title: { display: true, text: yTitle, align: 'start', font: { size: 19 }, padding: { top: L.yTitlePad, bottom: 0 } }
        }
      }
    },
    plugins: [makeDeco(p, L)]
  });
}

panels.forEach((p, i) => buildPanel(p, layouts[i]));
</script>
</body>
</html>
